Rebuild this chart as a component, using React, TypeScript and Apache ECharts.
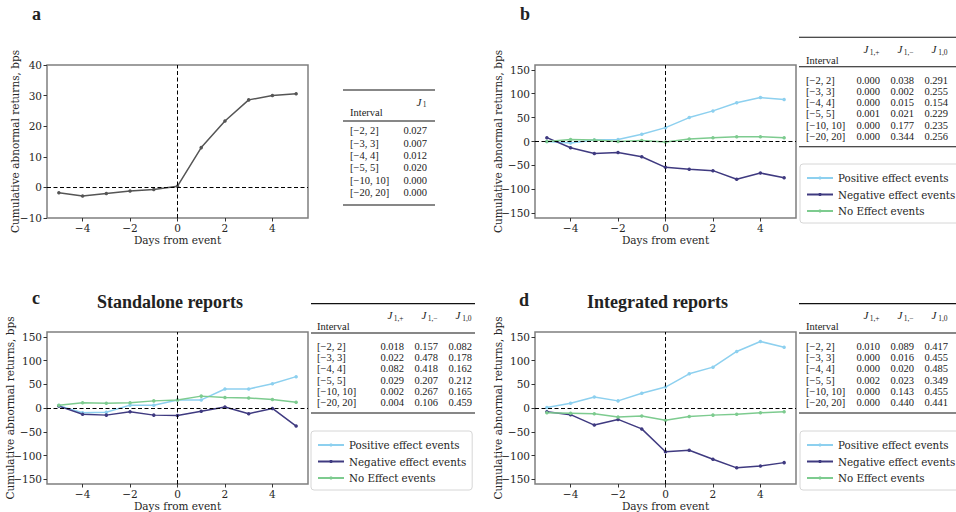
import React, { useEffect, useRef } from 'react';
import * as echarts from 'echarts';

// ---------- data ----------
const days = [-5, -4, -3, -2, -1, 0, 1, 2, 3, 4, 5];
const overallCar = [-1.75, -2.8, -2.0, -1.2, -0.7, 0.4, 13.0, 21.7, 28.6, 30.0, 30.6];

const allPositive = [0, -3, 3, 4, 15, 29, 50, 64, 81, 92, 88];
const allNegative = [8, -13, -25, -23, -32, -54, -58, -61, -79, -66, -76];
const allNoEffect = [0, 4, 3, 0, 2, -1, 5, 8, 10, 10, 8];

const standalonePositive = [5, -10, -9, 6, 6, 17, 17, 40, 40, 51, 66];
const standaloneNegative = [4, -13, -15, -8, -15, -16, -7, 2, -12, -1, -38];
const standaloneNoEffect = [6, 11, 10, 11, 15, 17, 25, 22, 21, 18, 12];

const integratedPositive = [1, 10, 23, 15, 31, 44, 72, 86, 119, 140, 128];
const integratedNegative = [-8, -14, -36, -24, -44, -92, -89, -108, -126, -122, -115];
const integratedNoEffect = [-10, -11, -12, -19, -17, -26, -18, -15, -13, -10, -8];

const seriesNames = ['Positive effect events', 'Negative effect events', 'No Effect events'];
const seriesColors = ['#8dd0ef', '#3f3a80', '#7dcb8f'];

const xTicks = [-4, -2, 0, 2, 4];
const yTicksWide = [-150, -100, -50, 0, 50, 100, 150];

const intervals = ['[\u22122, 2]', '[\u22123, 3]', '[\u22124, 4]', '[\u22125, 5]', '[\u221210, 10]', '[\u221220, 20]'];
const tableA_J1 = ['0.027', '0.007', '0.012', '0.020', '0.000', '0.000'];
const tableB_plus = ['0.000', '0.000', '0.000', '0.001', '0.000', '0.000'];
const tableB_minus = ['0.038', '0.002', '0.015', '0.021', '0.177', '0.344'];
const tableB_zero = ['0.291', '0.255', '0.154', '0.229', '0.235', '0.256'];
const tableC_plus = ['0.018', '0.022', '0.082', '0.029', '0.002', '0.004'];
const tableC_minus = ['0.157', '0.478', '0.418', '0.207', '0.267', '0.106'];
const tableC_zero = ['0.082', '0.178', '0.162', '0.212', '0.165', '0.459'];
const tableD_plus = ['0.010', '0.000', '0.000', '0.002', '0.000', '0.000'];
const tableD_minus = ['0.089', '0.016', '0.020', '0.023', '0.143', '0.440'];
const tableD_zero = ['0.417', '0.455', '0.485', '0.349', '0.455', '0.441'];
const subHeaders = ['1,+', '1,\u2212', '1,0'];

// ---------- helpers ----------
const TICK_FONT = "'DejaVu Serif', serif";
const TEX_FONT = "'Liberation Serif', serif";
const fmt = (v: number) => (v < 0 ? '\u2212' + Math.abs(v) : String(v));

function txt(text: string, x: number, y: number, opts: any = {}) {
  const align = opts.align || 'left';
  const valign = opts.valign || 'middle';
  return {
    type: 'text',
    silent: true,
    style: {
      text,
      x,
      y,
      fill: opts.fill || '#222',
      fontFamily: opts.fontFamily || TEX_FONT,
      fontSize: opts.fontSize || 10.5,
      fontWeight: opts.fontWeight || 'normal',
      fontStyle: opts.fontStyle || 'normal',
      textAlign: align,
      textVerticalAlign: valign,
      align,
      verticalAlign: valign,
    },
  };
}

function hline(x1: number, x2: number, y: number, w = 1) {
  return {
    type: 'line',
    silent: true,
    shape: { x1, y1: y, x2, y2: y },
    style: { stroke: '#111', lineWidth: w },
  };
}

function buildTable(
  x1: number,
  x2: number,
  y0: number,
  intervalX: number,
  colRights: number[],
  cols: string[][],
  headers: string[],
  rowStart: number,
  rowStep: number,
  headerY: number,
  intervalY: number,
  midY: number,
  bottomY: number
) {
  const els: any[] = [];
  els.push(hline(x1, x2, y0, 1.1));
  els.push(hline(x1, x2, midY, 1.1));
  els.push(hline(x1, x2, bottomY, 1.1));
  els.push(txt('Interval', intervalX, intervalY));
  colRights.forEach((r, ci) => {
    const sub = headers[ci];
    const subW = sub.length > 1 ? 11 : 5;
    els.push(txt('J', r - subW - 0.5, headerY, { align: 'right', fontStyle: 'italic', fontSize: 11 }));
    els.push(txt(sub, r - 0.5, headerY + 3, { align: 'right', fontSize: 7.5 }));
  });
  intervals.forEach((iv, ri) => {
    const y = rowStart + ri * rowStep;
    els.push(txt(iv, intervalX, y));
    colRights.forEach((r, ci) => {
      els.push(txt(cols[ci][ri], r, y, { align: 'right' }));
    });
  });
  return els;
}

export default function App() {
  const ref = useRef<HTMLDivElement>(null);

  useEffect(() => {
    const chart = echarts.init(ref.current!, null, { renderer: 'svg' });

    const gridDefs = [
      { left: 47, top: 65, width: 261, height: 153 },
      { left: 535, top: 65, width: 261, height: 153 },
      { left: 47, top: 332, width: 261, height: 152 },
      { left: 535, top: 332, width: 261, height: 152 },
    ];
    const grid = gridDefs.map((g) => ({
      ...g,
      show: true,
      borderColor: '#7f7f7f',
      borderWidth: 1.5,
      backgroundColor: 'transparent',
      containLabel: false,
      outerBoundsMode: 'none',
    }));

    const labelStyle = { fontFamily: TICK_FONT, fontSize: 10.5, color: '#262626' };

    const xAxis = gridDefs.map((_, i) => ({
      type: 'value',
      gridIndex: i,
      min: -5.5,
      max: 5.5,
      axisLine: { show: false, onZero: false },
      axisTick: { show: true, length: 3.5, lineStyle: { color: '#333', width: 1 }, customValues: xTicks },
      axisLabel: { ...labelStyle, margin: 4, formatter: fmt, customValues: xTicks },
      splitLine: { show: false },
      name: 'Days from event',
      nameLocation: 'middle',
      nameGap: 16,
      nameMoveOverlap: false,
      nameTextStyle: labelStyle,
    }));

    const yAxis = gridDefs.map((_, i) => {
      const base: any = {
        type: 'value',
        gridIndex: i,
        axisLine: { show: false, onZero: false },
        splitLine: { show: false },
        name: 'Cumulative abnormal returns, bps',
        nameLocation: 'middle',
        nameMoveOverlap: false,
        nameTextStyle: labelStyle,
      };
      if (i === 0) {
        return {
          ...base,
          min: -10,
          max: 40,
          interval: 10,
          nameGap: 27,
          axisTick: { show: true, length: 3.5, lineStyle: { color: '#333', width: 1 } },
          axisLabel: { ...labelStyle, margin: 5, formatter: fmt },
        };
      }
      return {
        ...base,
        min: -160,
        max: 160,
        nameGap: 32,
        axisTick: { show: true, length: 3.5, lineStyle: { color: '#333', width: 1 }, customValues: yTicksWide },
        axisLabel: { ...labelStyle, margin: 5, formatter: fmt, customValues: yTicksWide },
      };
    });

    const zeroLines = {
      silent: true,
      symbol: ['none', 'none'],
      label: { show: false },
      emphasis: { disabled: true },
      lineStyle: { color: '#000', type: [4, 2.5], width: 1 },
      data: [{ yAxis: 0 }, { xAxis: 0 }],
    };

    const mk = (name: string, vals: number[], color: string, gi: number, withMark: boolean) => ({
      type: 'line',
      name,
      xAxisIndex: gi,
      yAxisIndex: gi,
      data: days.map((d, k) => [d, vals[k]]),
      symbol: 'circle',
      symbolSize: 3.5,
      showSymbol: true,
      lineStyle: { color, width: 1.5 },
      itemStyle: { color },
      emphasis: { disabled: true },
      markLine: withMark ? zeroLines : undefined,
    });

    const panelSets = [
      [allPositive, allNegative, allNoEffect],
      [standalonePositive, standaloneNegative, standaloneNoEffect],
      [integratedPositive, integratedNegative, integratedNoEffect],
    ];

    const series: any[] = [mk('All events', overallCar, '#555555', 0, true)];
    panelSets.forEach((set, pi) => {
      set.forEach((vals, si) => {
        series.push(mk(seriesNames[si], vals, seriesColors[si], pi + 1, si === 0));
      });
    });

    const legendBase = {
      orient: 'vertical',
      data: seriesNames,
      itemWidth: 26,
      itemHeight: 4,
      itemGap: 4.5,
      padding: [8, 6, 6, 6],
      borderColor: '#d6d6d6',
      borderWidth: 1,
      borderRadius: 3,
      backgroundColor: 'rgba(255,255,255,0.85)',
      textStyle: { fontFamily: TICK_FONT, fontSize: 10.3, color: '#262626', lineHeight: 12 },
      selectedMode: false,
    };
    const legend = [
      { ...legendBase, left: 800, top: 164 },
      { ...legendBase, left: 311, top: 431 },
      { ...legendBase, left: 800, top: 431 },
    ];

    const off = 266.3;
    const graphics: any[] = [
      txt('a', 32, 14, { fontWeight: 'bold', fontSize: 18, fill: '#222' }),
      txt('b', 520, 14, { fontWeight: 'bold', fontSize: 18, fill: '#222' }),
      txt('c', 32, 298, { fontWeight: 'bold', fontSize: 18, fill: '#222' }),
      txt('d', 519, 300, { fontWeight: 'bold', fontSize: 18, fill: '#222' }),
      txt('Standalone reports', 170, 302, { align: 'center', fontWeight: 'bold', fontSize: 18, fill: '#222' }),
      txt('Integrated reports', 657.5, 302, { align: 'center', fontWeight: 'bold', fontSize: 18, fill: '#222' }),
      ...buildTable(343, 435, 90, 350, [427], [tableA_J1], ['1'], 130.7, 12.4, 101.5, 112.5, 121, 205),
      ...buildTable(799, 960, 37.3, 806, [880, 914, 948], [tableB_plus, tableB_minus, tableB_zero], subHeaders, 80, 11.3, 49, 60, 66.7, 146.7),
      ...buildTable(311, 475, 37.3 + off, 317, [404, 438, 472], [tableC_plus, tableC_minus, tableC_zero], subHeaders, 80 + off, 11.3, 49 + off, 60 + off, 66.7 + off, 146.7 + off),
      ...buildTable(799, 960, 37.3 + off, 806, [880, 914, 948], [tableD_plus, tableD_minus, tableD_zero], subHeaders, 80 + off, 11.3, 49 + off, 60 + off, 66.7 + off, 146.7 + off),
    ];

    chart.setOption({
      animation: false,
      backgroundColor: '#ffffff',
      grid,
      xAxis,
      yAxis,
      series,
      legend,
      graphic: { elements: graphics },
    });

    return () => chart.dispose();
  }, []);

  return (
    <div
      ref={ref}
      style={{ position: 'fixed', left: 0, top: 0, width: 956, height: 512, background: '#fff' }}
    />
  );
}
